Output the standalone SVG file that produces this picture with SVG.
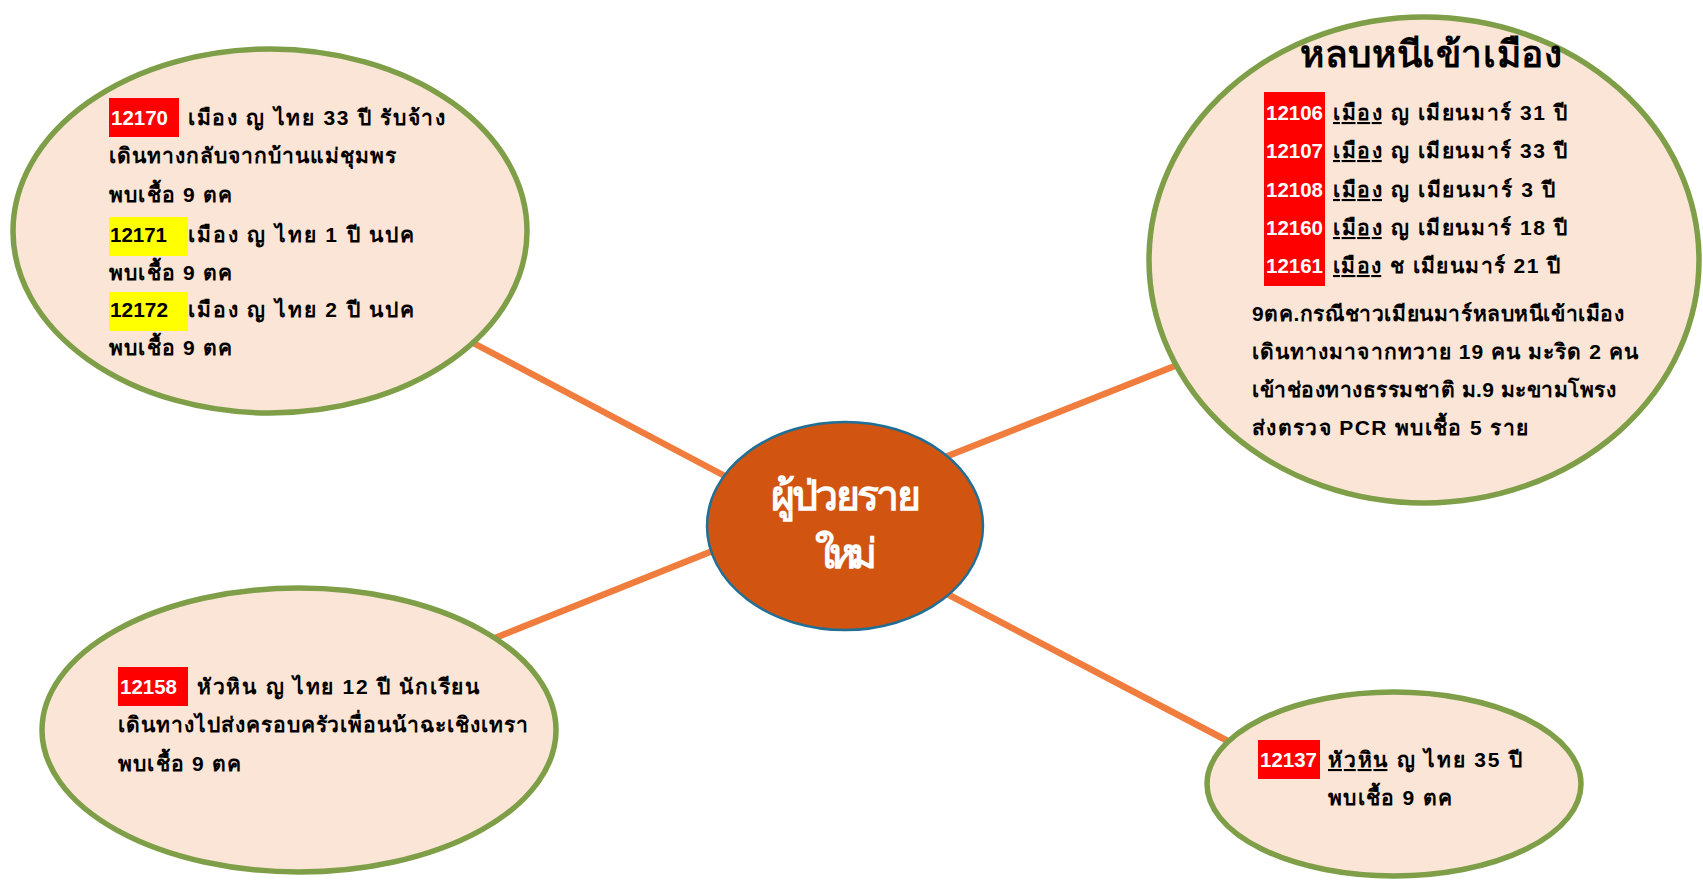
<svg xmlns="http://www.w3.org/2000/svg" width="1703" height="886" viewBox="0 0 1703 886">
<style>
.bub{fill:#FBE5D6;stroke:#7E9E48;stroke-width:5.5}
.t{font-family:"Liberation Sans","Noto Sans","DejaVu Sans",sans-serif;font-weight:bold;font-size:21px;fill:#000}
.d{font-size:20px}
.w{fill:#fff}
.u{text-decoration:underline}
.big{font-size:37px}
.ctr{font-size:41px}
.con{stroke:#F07D3D;stroke-width:6.5;fill:none}
</style>
<rect width="1703" height="886" fill="#fff"/>
<g id="connectors">
<line class="con" x1="460" y1="336" x2="740" y2="484"/>
<line class="con" x1="930" y1="463" x2="1195" y2="358"/>
<line class="con" x1="730" y1="544" x2="480" y2="644"/>
<line class="con" x1="930" y1="585" x2="1245" y2="750"/>
</g>
<g id="node-top-left">
<ellipse class="bub" cx="270" cy="231" rx="257" ry="182"/>
<rect x="109" y="98" width="70" height="39" fill="#FF0000"/>
<text class="t d w" x="111" y="125" textLength="57" lengthAdjust="spacingAndGlyphs">12170</text>
<text class="t" x="188" y="125" textLength="257" lengthAdjust="spacing">เมือง ญ ไทย 33 ปี รับจ้าง</text>
<text class="t" x="109" y="163" textLength="287" lengthAdjust="spacing">เดินทางกลับจากบ้านแม่ชุมพร</text>
<text class="t" x="109" y="202" textLength="123" lengthAdjust="spacing">พบเชื้อ 9 ตค</text>
<rect x="109" y="217" width="79" height="39" fill="#FFFF00"/>
<text class="t d" x="110" y="242" textLength="57" lengthAdjust="spacingAndGlyphs">12171</text>
<text class="t" x="188" y="242" textLength="226" lengthAdjust="spacing">เมือง ญ ไทย 1 ปี นปค</text>
<text class="t" x="109" y="280" textLength="123" lengthAdjust="spacing">พบเชื้อ 9 ตค</text>
<rect x="109" y="292" width="79" height="39" fill="#FFFF00"/>
<text class="t d" x="110" y="317" textLength="58" lengthAdjust="spacingAndGlyphs">12172</text>
<text class="t" x="188" y="317" textLength="226" lengthAdjust="spacing">เมือง ญ ไทย 2 ปี นปค</text>
<text class="t" x="109" y="355" textLength="123" lengthAdjust="spacing">พบเชื้อ 9 ตค</text>
</g>
<g id="node-top-right">
<ellipse class="bub" cx="1424" cy="260" rx="275" ry="243"/>
<text class="t big" x="1300" y="67" textLength="262" lengthAdjust="spacing">หลบหนีเข้าเมือง</text>
<rect x="1264" y="92" width="61" height="194" fill="#FF0000"/>
<text class="t d w" x="1266" y="120" textLength="57" lengthAdjust="spacingAndGlyphs">12106</text>
<text class="t" x="1333" y="120" textLength="234" lengthAdjust="spacing"><tspan class="u">เมือง</tspan> ญ เมียนมาร์ 31 ปี</text>
<text class="t d w" x="1266" y="158" textLength="57" lengthAdjust="spacingAndGlyphs">12107</text>
<text class="t" x="1333" y="158" textLength="234" lengthAdjust="spacing"><tspan class="u">เมือง</tspan> ญ เมียนมาร์ 33 ปี</text>
<text class="t d w" x="1266" y="197" textLength="57" lengthAdjust="spacingAndGlyphs">12108</text>
<text class="t" x="1333" y="197" textLength="222" lengthAdjust="spacing"><tspan class="u">เมือง</tspan> ญ เมียนมาร์ 3 ปี</text>
<text class="t d w" x="1266" y="235" textLength="57" lengthAdjust="spacingAndGlyphs">12160</text>
<text class="t" x="1333" y="235" textLength="234" lengthAdjust="spacing"><tspan class="u">เมือง</tspan> ญ เมียนมาร์ 18 ปี</text>
<text class="t d w" x="1266" y="273" textLength="57" lengthAdjust="spacingAndGlyphs">12161</text>
<text class="t" x="1333" y="273" textLength="227" lengthAdjust="spacing"><tspan class="u">เมือง</tspan> ช เมียนมาร์ 21 ปี</text>
<text class="t" x="1252" y="321" textLength="372" lengthAdjust="spacing">9ตค.กรณีชาวเมียนมาร์หลบหนีเข้าเมือง</text>
<text class="t" x="1252" y="359" textLength="386" lengthAdjust="spacing">เดินทางมาจากทวาย 19 คน มะริด 2 คน</text>
<text class="t" x="1252" y="397" textLength="364" lengthAdjust="spacing">เข้าช่องทางธรรมชาติ ม.9 มะขามโพรง</text>
<text class="t" x="1252" y="435" textLength="276" lengthAdjust="spacing">ส่งตรวจ PCR พบเชื้อ 5 ราย</text>
</g>
<g id="node-center">
<ellipse cx="845" cy="526" rx="138" ry="104" fill="#D25411" stroke="#1F6F96" stroke-width="2.5"/>
<text class="t ctr w" x="768" y="510" textLength="150" lengthAdjust="spacing">ผู้ป่วยราย</text>
<text class="t ctr w" x="815" y="568" textLength="62" lengthAdjust="spacing">ใหม่</text>
</g>
<g id="node-bottom-left">
<ellipse class="bub" cx="299" cy="730" rx="257" ry="142"/>
<rect x="118" y="667" width="70" height="39" fill="#FF0000"/>
<text class="t d w" x="120" y="694" textLength="57" lengthAdjust="spacingAndGlyphs">12158</text>
<text class="t" x="197" y="694" textLength="282" lengthAdjust="spacing">หัวหิน ญ ไทย 12 ปี นักเรียน</text>
<text class="t" x="118" y="732" textLength="410" lengthAdjust="spacing">เดินทางไปส่งครอบครัวเพื่อนน้าฉะเชิงเทรา</text>
<text class="t" x="118" y="771" textLength="123" lengthAdjust="spacing">พบเชื้อ 9 ตค</text>
</g>
<g id="node-bottom-right">
<ellipse class="bub" cx="1394" cy="784" rx="187" ry="92"/>
<rect x="1258" y="740" width="62" height="39" fill="#FF0000"/>
<text class="t d w" x="1260" y="767" textLength="57" lengthAdjust="spacingAndGlyphs">12137</text>
<text class="t" x="1328" y="767" textLength="194" lengthAdjust="spacing"><tspan class="u">หัวหิน</tspan> ญ ไทย 35 ปี</text>
<text class="t" x="1328" y="805" textLength="124" lengthAdjust="spacing">พบเชื้อ 9 ตค</text>
</g>
</svg>
